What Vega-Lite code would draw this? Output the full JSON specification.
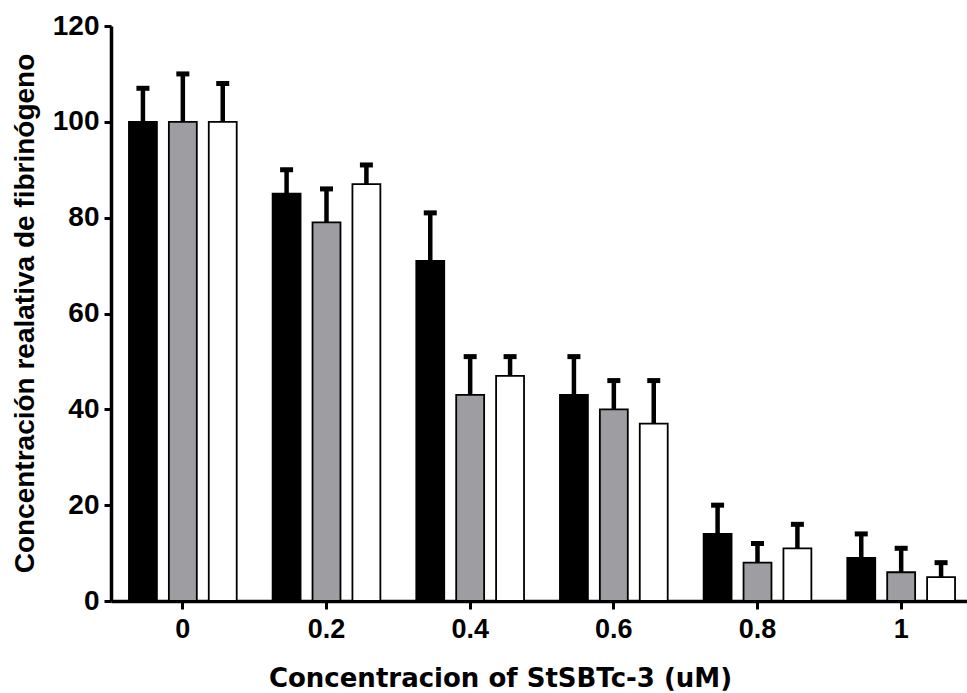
{
  "$schema": "https://vega.github.io/schema/vega-lite/v6.json",
  "width": 862,
  "height": 575,
  "autosize": "none",
  "padding": {"left": 111, "top": 26, "right": 0, "bottom": 92},
  "background": "white",
  "config": {
    "view": {"stroke": null},
    "font": "Liberation Sans"
  },
  "data": {
    "values": [
      {"conc": "0", "serie": "s1", "value": 100, "upper": 107},
      {"conc": "0", "serie": "s2", "value": 100, "upper": 110},
      {"conc": "0", "serie": "s3", "value": 100, "upper": 108},
      {"conc": "0.2", "serie": "s1", "value": 85, "upper": 90},
      {"conc": "0.2", "serie": "s2", "value": 79, "upper": 86},
      {"conc": "0.2", "serie": "s3", "value": 87, "upper": 91},
      {"conc": "0.4", "serie": "s1", "value": 71, "upper": 81},
      {"conc": "0.4", "serie": "s2", "value": 43, "upper": 51},
      {"conc": "0.4", "serie": "s3", "value": 47, "upper": 51},
      {"conc": "0.6", "serie": "s1", "value": 43, "upper": 51},
      {"conc": "0.6", "serie": "s2", "value": 40, "upper": 46},
      {"conc": "0.6", "serie": "s3", "value": 37, "upper": 46},
      {"conc": "0.8", "serie": "s1", "value": 14, "upper": 20},
      {"conc": "0.8", "serie": "s2", "value": 8, "upper": 12},
      {"conc": "0.8", "serie": "s3", "value": 11, "upper": 16},
      {"conc": "1", "serie": "s1", "value": 9, "upper": 14},
      {"conc": "1", "serie": "s2", "value": 6, "upper": 11},
      {"conc": "1", "serie": "s3", "value": 5, "upper": 8}
    ]
  },
  "encoding": {
    "x": {
      "field": "conc",
      "type": "nominal",
      "sort": ["0", "0.2", "0.4", "0.6", "0.8", "1"],
      "scale": {"paddingInner": 0, "paddingOuter": 0},
      "axis": {
        "title": "Concentracion of StSBTc-3 (uM)",
        "labelAngle": 0,
        "labelFont": "Liberation Sans",
        "labelFontWeight": "bold",
        "labelFontSize": 27,
        "labelColor": "black",
        "labelPadding": 7,
        "tickColor": "black",
        "tickWidth": 3,
        "tickSize": 8,
        "domainColor": "black",
        "domainWidth": 3.5,
        "titleFont": "DejaVu Sans",
        "titleFontWeight": "bold",
        "titleFontSize": 26,
        "titleColor": "black",
        "titleX": 389,
        "titleY": 77,
        "titleAlign": "center",
        "titleBaseline": "middle"
      }
    },
    "xOffset": {
      "field": "serie",
      "type": "nominal",
      "scale": {"paddingInner": 0.3, "paddingOuter": 0.45}
    }
  },
  "layer": [
    {
      "mark": {"type": "rule", "strokeWidth": 4.5, "color": "black"},
      "encoding": {
        "y": {"field": "value", "type": "quantitative"},
        "y2": {"field": "upper"}
      }
    },
    {
      "mark": {"type": "tick", "orient": "horizontal", "size": 13, "thickness": 5, "color": "black", "opacity": 1},
      "encoding": {
        "y": {"field": "upper", "type": "quantitative"}
      }
    },
    {
      "mark": {"type": "bar", "stroke": "black", "strokeWidth": 1.8},
      "encoding": {
        "y": {
          "field": "value",
          "type": "quantitative",
          "scale": {"domain": [0, 120], "nice": false},
          "axis": {
            "values": [0, 20, 40, 60, 80, 100, 120],
            "grid": false,
            "title": "Concentración realativa de fibrinógeno",
            "labelFont": "Liberation Sans",
            "labelFontWeight": "bold",
            "labelFontSize": 28,
            "labelColor": "black",
            "labelPadding": 5,
            "tickColor": "black",
            "tickWidth": 3,
            "tickSize": 7,
            "domainColor": "black",
            "domainWidth": 3.5,
            "titleFont": "Liberation Sans",
            "titleFontWeight": "bold",
            "titleFontSize": 28,
            "titleColor": "black",
            "titleAngle": -90,
            "titleX": -86,
            "titleY": 287,
            "titleAlign": "center",
            "titleBaseline": "middle"
          }
        },
        "fill": {
          "field": "serie",
          "type": "nominal",
          "scale": {"domain": ["s1", "s2", "s3"], "range": ["#000000", "#9e9ea2", "#ffffff"]},
          "legend": null
        }
      }
    }
  ]
}
